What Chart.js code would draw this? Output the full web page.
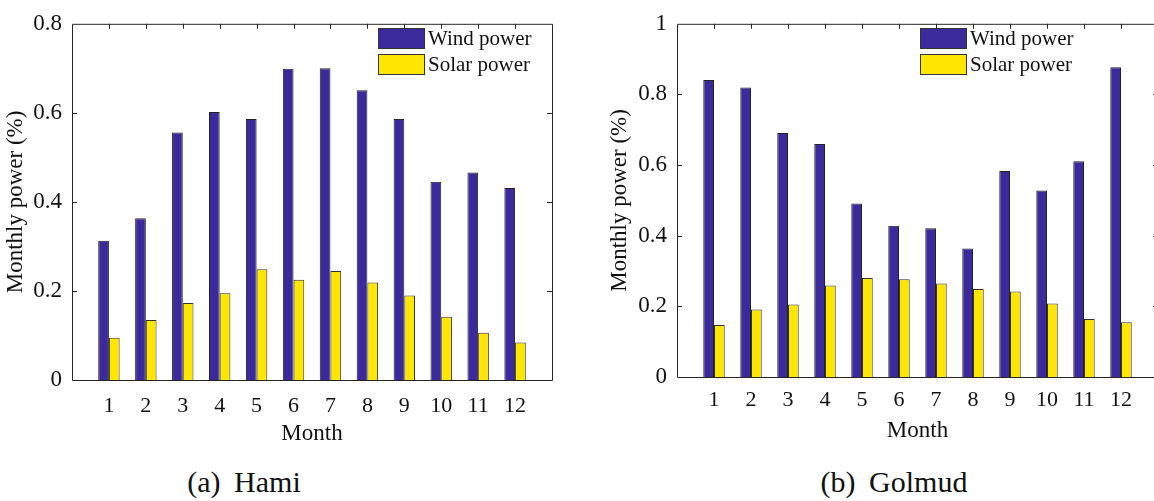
<!DOCTYPE html>
<html>
<head>
<meta charset="utf-8">
<script src="https://cdn.jsdelivr.net/npm/chart.js@4.4.1/dist/chart.umd.min.js"></script>
<style>
  html, body { margin: 0; padding: 0; background: #fff; }
  body { width: 1154px; height: 501px; position: relative; overflow: hidden; font-family: 'Liberation Serif', 'Times New Roman', serif; }
  canvas { position: absolute; top: 0; }
  #hami { left: 0; }
  #golmud { left: 604px; }
  .caption { position: absolute; width: 400px; text-align: center; font-size: 30px; line-height: 30px; word-spacing: 6px; color: #111; }
</style>
</head>
<body>
<canvas id="hami" width="600" height="460"></canvas>
<canvas id="golmud" width="560" height="460"></canvas>
<div class="caption" style="left:44px; top:467px;">(a) Hami</div>
<div class="caption" style="left:694px; top:467px;">(b) Golmud</div>
<script>
// values
const months = [1, 2, 3, 4, 5, 6, 7, 8, 9, 10, 11, 12];
const monthLabels = ['1', '2', '3', '4', '5', '6', '7', '8', '9', '10', '11', '12'];
const seriesNames = ['Wind power', 'Solar power'];

const hamiWind  = [0.313, 0.363, 0.556, 0.602, 0.586, 0.699, 0.700, 0.651, 0.586, 0.445, 0.466, 0.431];
const hamiSolar = [0.095, 0.135, 0.173, 0.195, 0.249, 0.225, 0.245, 0.219, 0.190, 0.142, 0.106, 0.084];

const golmudWind  = [0.841, 0.820, 0.691, 0.660, 0.491, 0.428, 0.421, 0.364, 0.583, 0.528, 0.611, 0.877];
const golmudSolar = [0.147, 0.191, 0.205, 0.259, 0.280, 0.277, 0.265, 0.249, 0.242, 0.208, 0.164, 0.155];

const hamiYTicks = [0, 0.2, 0.4, 0.6, 0.8];
const hamiYLabels = ['0', '0.2', '0.4', '0.6', '0.8'];
const golmudYTicks = [0, 0.2, 0.4, 0.6, 0.8, 1];
const golmudYLabels = ['0', '0.2', '0.4', '0.6', '0.8', '1'];

const serif = "'Liberation Serif', 'Times New Roman', serif";
const textColor = '#111';
const lineColor = '#262626';
const windColor = '#3b2a9b';
const solarColor = '#ffe600';

// box around the plot with inward ticks, like a matlab axes
const framePlugin = {
  id: 'frame',
  afterDatasetsDraw(chart) {
    const { ctx, chartArea: a, scales } = chart;
    const len = 5;
    ctx.save();
    ctx.strokeStyle = lineColor;
    ctx.lineWidth = 1;
    ctx.beginPath();
    ctx.rect(a.left + 0.5, a.top + 0.5, a.right - a.left, a.bottom - a.top);
    scales.x.ticks.forEach(t => {
      const px = Math.round(scales.x.getPixelForValue(t.value)) + 0.5;
      ctx.moveTo(px, a.top);
      ctx.lineTo(px, a.top + len);
    });
    const yt = scales.y.ticks;
    yt.forEach((t, i) => {
      if (i === 0 || i === yt.length - 1) return;
      const py = Math.round(scales.y.getPixelForValue(t.value)) + 0.5;
      ctx.moveTo(a.left, py);
      ctx.lineTo(a.left + len, py);
      ctx.moveTo(a.right, py);
      ctx.lineTo(a.right - len, py);
    });
    ctx.stroke();
    ctx.restore();
  }
};

// legend drawn inside the plot, top right
const insideLegend = {
  id: 'insideLegend',
  afterDraw(chart, args, opts) {
    const { ctx } = chart;
    ctx.save();
    ctx.font = opts.fontSize + 'px ' + serif;
    ctx.textBaseline = 'middle';
    ctx.textAlign = 'left';
    chart.data.datasets.forEach((ds, i) => {
      const y = opts.y + i * opts.rowGap;
      ctx.fillStyle = ds.backgroundColor;
      ctx.fillRect(opts.x, y, opts.boxW, opts.boxH);
      ctx.strokeStyle = '#333';
      ctx.lineWidth = 1;
      ctx.strokeRect(opts.x + 0.5, y + 0.5, opts.boxW, opts.boxH);
      ctx.fillStyle = textColor;
      ctx.fillText(ds.label, opts.x + opts.boxW + opts.textGap, y + opts.boxH / 2 + 1);
    });
    ctx.restore();
  }
};

function makeChart(id, wind, solar, yTicks, yLabels, lay) {
  const ctx = document.getElementById(id);
  return new Chart(ctx, {
    type: 'bar',
    data: {
      datasets: [
        {
          label: seriesNames[0],
          data: months.map((m, i) => ({ x: m, y: wind[i] })),
          backgroundColor: windColor,
          borderColor: '#222',
          borderWidth: 1
        },
        {
          label: seriesNames[1],
          data: months.map((m, i) => ({ x: m, y: solar[i] })),
          backgroundColor: solarColor,
          borderColor: '#333',
          borderWidth: 1
        }
      ]
    },
    options: {
      responsive: false,
      maintainAspectRatio: false,
      devicePixelRatio: 1,
      animation: false,
      categoryPercentage: 0.58,
      barPercentage: 1.0,
      layout: { padding: { top: lay.padTop, right: lay.padRight, left: 0, bottom: 0 } },
      scales: {
        x: {
          type: 'linear',
          min: 0,
          max: 13,
          offset: false,
          grid: { display: false, offset: false, drawTicks: false },
          border: { display: false },
          afterBuildTicks: s => { s.ticks = months.map(m => ({ value: m })); },
          afterFit: s => { s.height = lay.xHeight; },
          ticks: {
            autoSkip: false,
            maxRotation: 0,
            padding: lay.tickPad,
            color: textColor,
            font: { family: serif, size: 22 },
            callback: (v, i) => monthLabels[i]
          },
          title: {
            display: true,
            text: 'Month',
            color: textColor,
            font: { family: serif, size: 23 },
            padding: { top: 0, bottom: lay.titlePad }
          }
        },
        y: {
          min: 0,
          max: yTicks[yTicks.length - 1],
          grid: { display: false, drawTicks: false },
          border: { display: false },
          afterBuildTicks: s => { s.ticks = yTicks.map(v => ({ value: v })); },
          afterFit: s => { s.width = lay.yWidth; },
          ticks: {
            padding: 10,
            color: textColor,
            font: { family: serif, size: 23 },
            callback: (v, i) => yLabels[i]
          },
          title: {
            display: true,
            text: 'Monthly power (%)',
            color: textColor,
            font: { family: serif, size: 23 },
            padding: { top: 2, bottom: 0 }
          }
        }
      },
      plugins: {
        legend: { display: false },
        tooltip: { enabled: false },
        insideLegend: { x: lay.legendX, y: 28, boxW: 46, boxH: 20, rowGap: 26, textGap: 4, fontSize: 21 }
      }
    },
    plugins: [framePlugin, insideLegend]
  });
}

makeChart('hami', hamiWind, hamiSolar, hamiYTicks, hamiYLabels,
  { yWidth: 72, xHeight: 80, padTop: 14, padRight: 48, tickPad: 13, titlePad: 12.7, legendX: 378 });
makeChart('golmud', golmudWind, golmudSolar, golmudYTicks, golmudYLabels,
  { yWidth: 73, xHeight: 83, padTop: 14, padRight: 6, tickPad: 10, titlePad: 15, legendX: 316 });
</script>
</body>
</html>
